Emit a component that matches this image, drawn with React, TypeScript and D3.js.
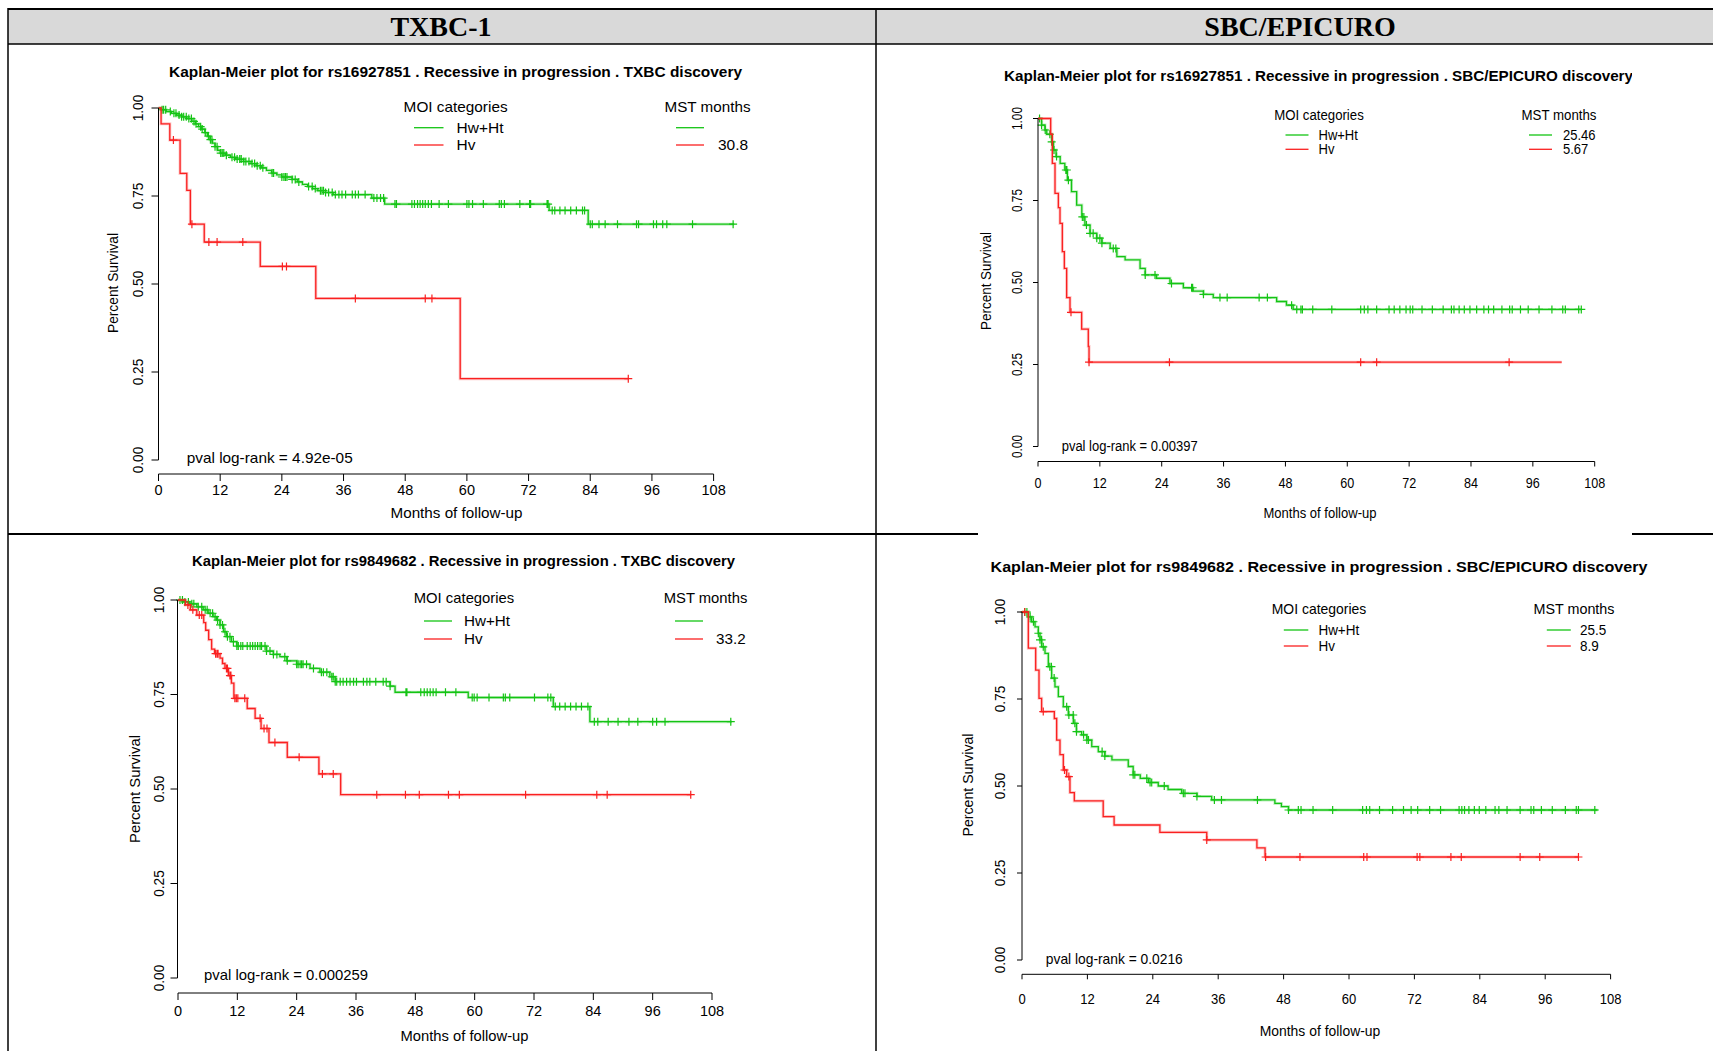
import React from 'react';
import * as d3 from 'd3';

// ---------- shared axis / legend values ----------
const monthTicks = [0, 12, 24, 36, 48, 60, 72, 84, 96, 108];
const survTicks = [0, 0.25, 0.5, 0.75, 1];
const survTickLabels = ['0.00', '0.25', '0.50', '0.75', '1.00'];
const groupNames = ['Hw+Ht', 'Hv'];
const cohortHeaders = ['TXBC-1', 'SBC/EPICURO'];
const snps = ['rs16927851', 'rs9849682'];
const cohorts = ['TXBC', 'SBC/EPICURO'];
const pvals = ['4.92e-05', '0.00397', '0.000259', '0.0216'];

// MST months per panel: [Hw+Ht, Hv]
const mstTxA = ['', '30.8'];
const mstSbcA = ['25.46', '5.67'];
const mstTxB = ['', '33.2'];
const mstSbcB = ['25.5', '8.9'];

// ---------- TXBC, rs16927851 ----------
const txAGreenT = [0.5, 1.5, 2.5, 3.5, 4.5, 5.5, 6.5, 7.2, 7.8, 8.4, 9.0, 9.5, 10.0, 10.5, 11.0, 11.5, 12.0, 13.0, 14.0, 15.0, 16.5, 18.0, 19.0, 20.0, 21.0, 22.0, 23.0, 24.0, 26.0, 27.0, 28.0, 29.0, 30.0, 31.0, 32.5, 34.0, 41.5, 44.0, 76.0, 83.6];
const txAGreenS = [0.995, 0.99, 0.985, 0.98, 0.975, 0.97, 0.962, 0.955, 0.947, 0.94, 0.93, 0.92, 0.91, 0.9, 0.89, 0.88, 0.872, 0.866, 0.86, 0.855, 0.848, 0.842, 0.836, 0.83, 0.823, 0.815, 0.81, 0.804, 0.797, 0.79, 0.783, 0.777, 0.771, 0.765, 0.76, 0.754, 0.744, 0.727, 0.709, 0.67];
const txAGreenC = [0.7, 1.0, 1.4, 2.3, 3.0, 3.4, 4.0, 4.5, 4.9, 5.4, 5.9, 6.4, 6.9, 7.3, 8.2, 8.5, 9.1, 9.7, 10.1, 10.4, 11.0, 11.4, 12.1, 12.4, 12.7, 13.2, 14.3, 14.8, 15.3, 15.8, 16.1, 16.6, 17.0, 17.6, 18.2, 18.7, 19.2, 19.8, 20.3, 22.1, 22.4, 24.0, 24.4, 24.7, 25.0, 26.0, 26.6, 27.3, 29.2, 29.9, 30.5, 31.5, 31.8, 32.1, 32.5, 33.1, 33.8, 34.4, 35.1, 35.7, 36.4, 37.7, 38.3, 38.9, 40.2, 41.9, 42.5, 43.2, 43.8, 46.0, 46.3, 49.3, 49.8, 50.4, 50.9, 51.4, 51.9, 52.5, 53.1, 54.6, 56.4, 60.0, 60.4, 61.1, 63.2, 66.3, 66.7, 67.3, 70.3, 72.2, 72.4, 75.6, 75.8, 76.6, 77.1, 78.1, 79.1, 80.2, 81.3, 82.5, 82.9, 84.0, 84.4, 85.7, 86.9, 89.3, 93.0, 93.4, 96.3, 96.9, 98.1, 98.9, 103.9, 111.8];
const txAGreenEnd = 112;
const txARedT = [0.5, 2.2, 4.2, 5.5, 6.2, 8.9, 19.8, 30.6, 58.7];
const txARedS = [0.955, 0.909, 0.814, 0.766, 0.67, 0.619, 0.55, 0.459, 0.231];
const txARedC = [2.9, 6.5, 9.8, 11.4, 16.4, 24.1, 24.9, 38.3, 51.9, 53.2, 91.4];
const txARedEnd = 91.4;

// ---------- SBC/EPICURO, rs16927851 ----------
const sbcAGreenT = [0.7, 1.35, 1.7, 2.65, 3.0, 3.5, 4.3, 5.2, 5.7, 6.5, 7.5, 8.5, 9.1, 10.1, 11.4, 12.4, 14.0, 15.3, 16.9, 19.8, 20.8, 23.0, 25.6, 28.2, 30.1, 32.1, 34.0, 46.3, 48.2, 49.5];
const sbcAGreenS = [0.98, 0.965, 0.952, 0.929, 0.904, 0.884, 0.863, 0.843, 0.812, 0.777, 0.736, 0.7, 0.675, 0.65, 0.635, 0.62, 0.604, 0.579, 0.569, 0.543, 0.523, 0.513, 0.497, 0.484, 0.474, 0.464, 0.454, 0.442, 0.431, 0.418];
const sbcAGreenC = [0.3, 0.7, 1.4, 2.3, 2.65, 3.1, 3.6, 5.4, 5.6, 5.9, 8.6, 8.9, 9.4, 10.1, 10.7, 11.4, 12.0, 12.4, 14.6, 15.1, 20.8, 22.7, 25.9, 29.8, 30.0, 32.1, 35.3, 36.7, 42.9, 44.5, 49.2, 50.2, 51.0, 51.3, 53.3, 57.0, 62.6, 63.3, 64.0, 65.7, 68.1, 69.1, 70.2, 71.4, 72.2, 72.7, 74.5, 76.5, 78.6, 80.2, 80.7, 81.7, 82.7, 83.8, 85.1, 86.5, 87.4, 88.4, 90.0, 91.5, 92.0, 93.6, 95.1, 97.2, 99.7, 101.8, 102.3, 104.9, 105.4];
const sbcAGreenEnd = 105.4;
const sbcARedT = [2.46, 2.78, 3.3, 3.95, 4.27, 4.72, 5.11, 5.56, 6.21, 8.47, 9.76, 9.9];
const sbcARedS = [0.952, 0.863, 0.772, 0.728, 0.68, 0.594, 0.543, 0.454, 0.409, 0.358, 0.305, 0.257];
const sbcARedC = [6.4, 9.9, 25.5, 62.6, 65.7, 91.4];
const sbcARedEnd = 101.6;

// ---------- TXBC, rs9849682 ----------
const txBGreenT = [1.0, 2.4, 3.8, 5.1, 6.1, 7.1, 7.8, 8.5, 9.2, 9.8, 10.8, 11.9, 17.9, 19.3, 20.6, 22.0, 24.0, 26.7, 28.7, 30.7, 31.8, 42.9, 43.9, 58.7, 75.9, 83.3];
const txBGreenS = [0.995, 0.99, 0.982, 0.974, 0.965, 0.956, 0.947, 0.934, 0.916, 0.903, 0.89, 0.878, 0.865, 0.856, 0.85, 0.839, 0.83, 0.819, 0.809, 0.797, 0.784, 0.772, 0.756, 0.742, 0.718, 0.678];
const txBGreenC = [0.4, 0.9, 1.4, 2.1, 2.8, 3.2, 4.1, 4.8, 5.5, 5.9, 6.5, 7.0, 7.5, 8.0, 8.5, 9.0, 9.5, 10.0, 10.5, 11.2, 11.9, 12.2, 12.7, 13.1, 14.0, 14.6, 15.1, 15.6, 16.1, 16.6, 16.9, 17.6, 17.9, 18.6, 19.3, 20.0, 21.6, 22.1, 24.0, 24.3, 24.7, 25.0, 25.3, 26.0, 27.4, 29.0, 29.4, 30.1, 31.1, 31.4, 31.8, 32.1, 32.8, 33.4, 34.1, 34.8, 35.5, 36.1, 37.5, 38.2, 38.8, 40.0, 41.5, 42.1, 42.9, 46.1, 46.3, 49.1, 49.8, 50.4, 51.0, 51.6, 52.2, 54.1, 56.2, 59.5, 59.9, 60.5, 62.9, 65.8, 66.2, 67.1, 72.1, 74.8, 75.4, 76.3, 77.2, 78.3, 79.4, 80.5, 81.6, 82.9, 84.2, 84.9, 87.0, 89.0, 91.2, 93.0, 96.0, 96.8, 98.5, 111.8];
const txBGreenEnd = 112;
const txBRedT = [1.5, 2.5, 3.8, 5.2, 5.6, 6.2, 6.8, 7.4, 8.5, 9.0, 9.5, 10.2, 10.8, 11.3, 14.0, 15.6, 16.8, 18.4, 22.1, 28.5, 32.9];
const txBRedS = [0.987, 0.974, 0.96, 0.94, 0.92, 0.895, 0.87, 0.858, 0.846, 0.832, 0.819, 0.8, 0.78, 0.74, 0.713, 0.687, 0.66, 0.623, 0.584, 0.54, 0.485];
const txBRedC = [2.0, 3.0, 4.3, 4.8, 7.6, 7.9, 8.1, 9.8, 10.0, 10.5, 10.7, 11.5, 11.8, 12.1, 13.5, 16.6, 17.4, 18.0, 19.6, 24.5, 29.2, 31.4, 40.2, 46.0, 48.8, 54.7, 56.9, 70.3, 84.7, 86.8, 103.7];
const txBRedEnd = 103.8;

// ---------- SBC/EPICURO, rs9849682 ----------
const sbcBGreenT = [1.16, 1.77, 2.39, 3.0, 3.3, 3.61, 4.22, 4.83, 5.44, 6.05, 6.67, 7.58, 8.5, 9.42, 10.0, 10.95, 11.9, 12.8, 14.0, 15.2, 16.5, 19.5, 20.4, 21.7, 23.2, 25.0, 26.8, 29.3, 32.1, 34.8, 46.4, 47.6, 48.9];
const sbcBGreenS = [0.986, 0.972, 0.957, 0.939, 0.92, 0.9, 0.881, 0.843, 0.81, 0.785, 0.757, 0.728, 0.704, 0.68, 0.656, 0.647, 0.632, 0.613, 0.599, 0.586, 0.575, 0.556, 0.532, 0.522, 0.51, 0.5, 0.49, 0.479, 0.47, 0.46, 0.45, 0.441, 0.431];
const sbcBGreenC = [0.5, 0.9, 1.5, 2.1, 3.0, 3.3, 3.6, 3.9, 5.1, 5.4, 5.9, 8.2, 8.6, 9.4, 9.7, 10.0, 11.3, 11.9, 12.2, 14.7, 15.2, 20.4, 20.7, 22.9, 23.5, 23.8, 26.1, 29.6, 29.9, 32.1, 35.3, 36.6, 43.2, 48.9, 50.7, 51.2, 53.4, 57.0, 62.5, 63.2, 63.8, 65.6, 68.0, 70.0, 71.4, 72.6, 74.8, 76.8, 80.2, 80.7, 81.2, 82.0, 83.0, 83.9, 85.1, 86.8, 87.5, 89.0, 91.4, 93.4, 93.9, 95.3, 97.3, 99.7, 101.7, 102.1, 105.1];
const sbcBGreenEnd = 105.6;
const sbcBRedT = [1.16, 2.51, 3.12, 3.6, 5.93, 6.36, 6.97, 7.58, 8.2, 8.8, 9.6, 14.9, 16.9, 25.3, 33.9, 43.1, 44.6];
const sbcBRedS = [0.896, 0.833, 0.752, 0.714, 0.694, 0.632, 0.59, 0.546, 0.527, 0.481, 0.457, 0.412, 0.388, 0.367, 0.345, 0.322, 0.296];
const sbcBRedC = [0.5, 3.9, 7.8, 8.6, 33.9, 44.7, 51.0, 62.7, 63.3, 72.5, 73.0, 78.7, 80.6, 91.4, 95.0, 102.1];
const sbcBRedEnd = 102.1;

const GREEN = '#14c414';
const RED = '#fa2020';
const colors = [GREEN, RED];

// page layout of each panel (pixels)
const layouts = [
  {
    x0: 158.5, x1: 713.6, yTop: 108, yBot: 460, axisY: 474, axisX: 158.5, tickLen: 7,
    tickLabY: 490, yTickLabX: 138, yTickW: 26.7,
    xlab: [456.5, 513, 132], ylab: [113, 283, 100],
    title: [455.5, 71.7, 573], titleAnchor: 'middle', clipRight: 0,
    moi: [455.6, 106.7, 104], rows: [127.7, 145], key: [414, 443.5], nameX: 456.5,
    mst: [707.5, 86], mstKey: [676, 704], mstValX: 718,
    pval: [186.7, 457.7, 166], size: 14.5, sx: 1, lsx: 1.07,
  },
  {
    x0: 1038, x1: 1594.7, yTop: 118.5, yBot: 446.5, axisY: 461.5, axisX: 1038, tickLen: 5,
    tickLabY: 483.3, yTickLabX: 1016.6, yTickW: 23,
    xlab: [1320, 513, 113], ylab: [986, 281, 98],
    title: [1004, 75.7, 629], titleAnchor: 'start', clipRight: 1632,
    moi: [1319, 115, 89.5], rows: [135, 149.3], key: [1285.5, 1308.5], nameX: 1318.5,
    mst: [1559, 75], mstKey: [1529, 1552], mstValX: 1563,
    pval: [1061.7, 446.5, 136], size: 14, sx: 0.9, lsx: 0.93,
  },
  {
    x0: 178, x1: 712, yTop: 600, yBot: 978, axisY: 993, axisX: 177.5, tickLen: 7,
    tickLabY: 1011, yTickLabX: 158.5, yTickW: 26.7,
    xlab: [464.5, 1036, 128], ylab: [134.7, 789, 108],
    title: [463.5, 560.7, 543], titleAnchor: 'middle', clipRight: 0,
    moi: [464, 598, 100.5], rows: [621, 639], key: [424, 452], nameX: 464,
    mst: [705.5, 83.6], mstKey: [675, 703], mstValX: 716,
    pval: [204, 975, 164], size: 14.5, sx: 1, lsx: 1.05,
  },
  {
    x0: 1022, x1: 1610.6, yTop: 612, yBot: 960, axisY: 974.3, axisX: 1022, tickLen: 5,
    tickLabY: 999.3, yTickLabX: 999.6, yTickW: 26.7,
    xlab: [1320, 1030.7, 120.6], ylab: [967.7, 785, 103],
    title: [1319, 567.3, 657], titleAnchor: 'middle', clipRight: 0,
    moi: [1319, 609, 94.6], rows: [630, 646], key: [1283.8, 1308.3], nameX: 1318.4,
    mst: [1574, 81], mstKey: [1546.8, 1570.8], mstValX: 1580,
    pval: [1045.8, 959.3, 137], size: 14.5, sx: 0.9, lsx: 0.93,
  },
];

const panels = [
  {
    snp: snps[0], cohort: cohorts[0], pval: pvals[0], mst: mstTxA,
    curves: [
      { t: txAGreenT, s: txAGreenS, c: txAGreenC, end: txAGreenEnd },
      { t: txARedT, s: txARedS, c: txARedC, end: txARedEnd },
    ],
  },
  {
    snp: snps[0], cohort: cohorts[1], pval: pvals[1], mst: mstSbcA,
    curves: [
      { t: sbcAGreenT, s: sbcAGreenS, c: sbcAGreenC, end: sbcAGreenEnd },
      { t: sbcARedT, s: sbcARedS, c: sbcARedC, end: sbcARedEnd },
    ],
  },
  {
    snp: snps[1], cohort: cohorts[0], pval: pvals[2], mst: mstTxB,
    curves: [
      { t: txBGreenT, s: txBGreenS, c: txBGreenC, end: txBGreenEnd },
      { t: txBRedT, s: txBRedS, c: txBRedC, end: txBRedEnd },
    ],
  },
  {
    snp: snps[1], cohort: cohorts[1], pval: pvals[3], mst: mstSbcB,
    curves: [
      { t: sbcBGreenT, s: sbcBGreenS, c: sbcBGreenC, end: sbcBGreenEnd },
      { t: sbcBRedT, s: sbcBRedS, c: sbcBRedC, end: sbcBRedEnd },
    ],
  },
];

const FONT = 'Liberation Sans, Arial, Helvetica, sans-serif';

function Txt({ x, y, text, w, anchor = 'start', size = 14.5, bold = false, rot = false, sx = 1 }: any) {
  const tf = rot ? `translate(${x},${y}) rotate(-90)` : `translate(${x},${y}) scale(${w ? 1 : sx},1)`;
  return (
    <text
      transform={tf}
      textAnchor={anchor}
      dy="0.35em"
      fontSize={size}
      fontFamily={FONT}
      fontWeight={bold ? 'bold' : 'normal'}
      textLength={w}
      lengthAdjust={w ? 'spacingAndGlyphs' : undefined}
      fill="#000"
    >
      {text}
    </text>
  );
}

function KMPanel({ p, L, idx }: any) {
  const x = d3.scaleLinear().domain([0, 108]).range([L.x0, L.x1]);
  const y = d3.scaleLinear().domain([0, 1]).range([L.yBot, L.yTop]);
  const line = d3
    .line<[number, number]>()
    .x(d => x(d[0]))
    .y(d => y(d[1]))
    .curve(d3.curveStepAfter);

  const title = `Kaplan-Meier plot for ${p.snp} . Recessive in progression . ${p.cohort} discovery`;
  const clipId = `titleclip${idx}`;

  return (
    <g>
      {L.clipRight ? (
        <clipPath id={clipId}>
          <rect x={0} y={0} width={L.clipRight} height={1051} />
        </clipPath>
      ) : null}
      <g clipPath={L.clipRight ? `url(#${clipId})` : undefined}>
        <Txt x={L.title[0]} y={L.title[1]} text={title} w={L.title[2]} anchor={L.titleAnchor} size={14} bold />
      </g>

      {/* curves */}
      {p.curves.map((cv: any, i: number) => {
        const pts: [number, number][] = [[0, 1]];
        cv.t.forEach((t: number, k: number) => pts.push([t, cv.s[k]]));
        pts.push([cv.end, cv.s[cv.s.length - 1]]);
        const d = line(pts) || '';
        const survAt = (t: number) => {
          const k = d3.bisectRight(cv.t, t) - 1;
          return k < 0 ? 1 : cv.s[k];
        };
        const marks = cv.c
          .map((c: number) => {
            const cx = x(c);
            const cy = y(survAt(c));
            return `M${cx - 4},${cy}H${cx + 4}M${cx},${cy - 4}V${cy + 4}`;
          })
          .join('');
        return (
          <g key={i}>
            <path d={d} fill="none" stroke={colors[i]} strokeWidth={3} strokeOpacity={0.25} />
            <path d={d} fill="none" stroke={colors[i]} strokeWidth={1.3} />
            <path d={marks} fill="none" stroke={colors[i]} strokeWidth={1.2} />
          </g>
        );
      })}

      {/* x axis */}
      <line x1={x(0)} x2={x(108)} y1={L.axisY} y2={L.axisY} stroke="#000" strokeWidth={1} />
      {monthTicks.map(m => (
        <g key={m}>
          <line x1={x(m)} x2={x(m)} y1={L.axisY} y2={L.axisY + L.tickLen} stroke="#000" strokeWidth={1} />
          <Txt x={x(m)} y={L.tickLabY} text={String(m)} anchor="middle" size={L.size} sx={L.sx} />
        </g>
      ))}
      <Txt x={L.xlab[0]} y={L.xlab[1]} text="Months of follow-up" w={L.xlab[2]} anchor="middle" size={L.size} />

      {/* y axis */}
      <line x1={L.axisX} x2={L.axisX} y1={y(0)} y2={y(1)} stroke="#000" strokeWidth={1} />
      {survTicks.map((v, i) => (
        <g key={v}>
          <line x1={L.axisX - L.tickLen} x2={L.axisX} y1={y(v)} y2={y(v)} stroke="#000" strokeWidth={1} />
          <Txt x={L.yTickLabX} y={y(v)} text={survTickLabels[i]} w={L.yTickW} anchor="middle" size={L.size} rot />
        </g>
      ))}
      <Txt x={L.ylab[0]} y={L.ylab[1]} text="Percent Survival" w={L.ylab[2]} anchor="middle" size={L.size} rot />

      {/* legend */}
      <Txt x={L.moi[0]} y={L.moi[1]} text="MOI categories" w={L.moi[2]} anchor="middle" size={L.size} />
      <Txt x={L.mst[0]} y={L.moi[1]} text="MST months" w={L.mst[1]} anchor="middle" size={L.size} />
      {groupNames.map((g, i) => (
        <g key={g}>
          <line x1={L.key[0]} x2={L.key[1]} y1={L.rows[i]} y2={L.rows[i]} stroke={colors[i]} strokeWidth={1.3} />
          <Txt x={L.nameX} y={L.rows[i]} text={g} size={L.size} sx={L.lsx} />
          <line x1={L.mstKey[0]} x2={L.mstKey[1]} y1={L.rows[i]} y2={L.rows[i]} stroke={colors[i]} strokeWidth={1.3} />
          <Txt x={L.mstValX} y={L.rows[i]} text={p.mst[i]} size={L.size} sx={L.lsx} />
        </g>
      ))}

      <Txt x={L.pval[0]} y={L.pval[1]} text={`pval log-rank = ${p.pval}`} w={L.pval[2]} size={L.size} />
    </g>
  );
}

export default function App() {
  return (
    <svg
      width={1713}
      height={1051}
      style={{ position: 'absolute', left: 0, top: 0, background: '#fff' }}
    >
      <rect x={0} y={0} width={1713} height={1051} fill="#fff" />
      {/* table frame */}
      <rect x={8} y={9} width={1705} height={35} fill="#d9d9d9" />
      <line x1={8} x2={1713} y1={9} y2={9} stroke="#000" strokeWidth={2} />
      <line x1={8} x2={1713} y1={44} y2={44} stroke="#000" strokeWidth={1.5} />
      <line x1={8} x2={8} y1={8} y2={1051} stroke="#000" strokeWidth={1.5} />
      <line x1={876} x2={876} y1={8} y2={1051} stroke="#000" strokeWidth={1.5} />
      <line x1={8} x2={978} y1={534} y2={534} stroke="#000" strokeWidth={2} />
      <line x1={1632} x2={1713} y1={534} y2={534} stroke="#000" strokeWidth={2} />
      <text x={441} y={36} textAnchor="middle" fontFamily="Liberation Serif, Times New Roman, serif" fontWeight="bold" fontSize={28}>
        {cohortHeaders[0]}
      </text>
      <text x={1300} y={36} textAnchor="middle" fontFamily="Liberation Serif, Times New Roman, serif" fontWeight="bold" fontSize={28}>
        {cohortHeaders[1]}
      </text>

      {panels.map((p, i) => (
        <KMPanel key={i} p={p} L={layouts[i]} idx={i} />
      ))}
    </svg>
  );
}
